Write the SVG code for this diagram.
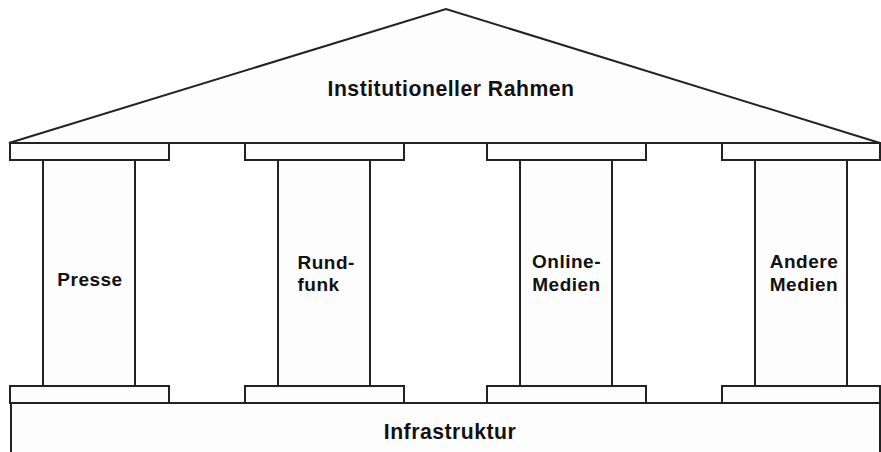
<svg xmlns="http://www.w3.org/2000/svg" width="881" height="452" viewBox="0 0 881 452">
<style>
.s{fill:#fdfdfd;stroke:#222;stroke-width:2}
.t{font-family:"Liberation Sans",Arial,sans-serif;font-weight:bold;fill:#111;letter-spacing:0.5px}
.big{font-size:21.2px}
.p{font-size:19px}
</style>
<rect width="881" height="452" fill="#fff"/>
<g id="roof">
<polygon class="s" points="9,143 446,9 880,143"/>
<text class="t big" x="451" y="95.5" text-anchor="middle">Institutioneller Rahmen</text>
</g>
<g id="base">
<rect class="s" x="11" y="403" width="869" height="60"/>
<text class="t big" x="450" y="438.5" text-anchor="middle">Infrastruktur</text>
</g>
<g id="presse">
<rect class="s" x="43" y="160" width="92" height="226"/>
<rect class="s" x="10" y="143" width="159" height="17"/>
<rect class="s" x="10" y="386" width="159" height="17"/>
<text class="t p" x="90" y="285.5" text-anchor="middle">Presse</text>
</g>
<g id="rundfunk">
<rect class="s" x="278" y="160" width="92" height="226"/>
<rect class="s" x="245" y="143" width="159" height="17"/>
<rect class="s" x="245" y="386" width="159" height="17"/>
<text class="t p" x="297.5" y="268.5">Rund-</text>
<text class="t p" x="297.5" y="290.5">funk</text>
</g>
<g id="online">
<rect class="s" x="520" y="160" width="92" height="226"/>
<rect class="s" x="487" y="143" width="159" height="17"/>
<rect class="s" x="487" y="386" width="159" height="17"/>
<text class="t p" x="566.5" y="268" text-anchor="middle">Online-</text>
<text class="t p" x="566.5" y="290.5" text-anchor="middle">Medien</text>
</g>
<g id="andere">
<rect class="s" x="755" y="160" width="92" height="226"/>
<rect class="s" x="722" y="143" width="158" height="17"/>
<rect class="s" x="722" y="386" width="158" height="17"/>
<text class="t p" x="804" y="268" text-anchor="middle">Andere</text>
<text class="t p" x="804" y="290.5" text-anchor="middle">Medien</text>
</g>
<g id="connectors"></g>
</svg>
